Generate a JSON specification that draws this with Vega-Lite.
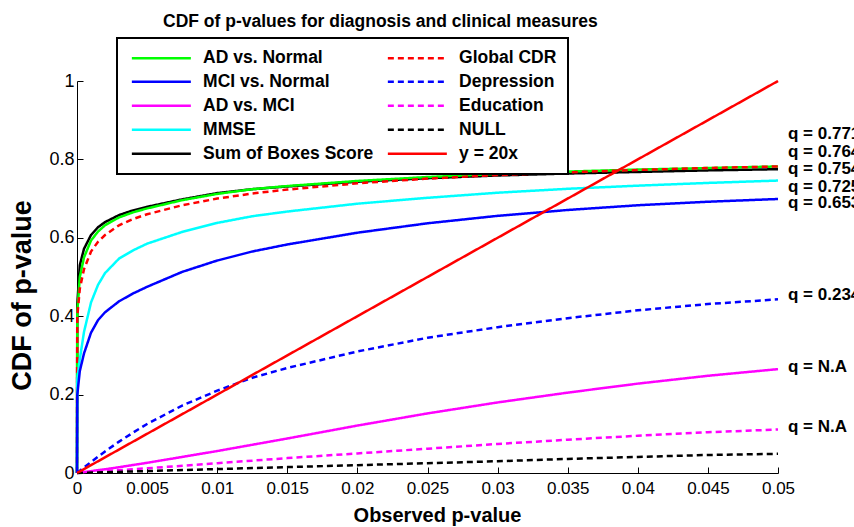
{
  "$schema": "https://vega.github.io/schema/vega-lite/v6.json",
  "autosize": {"type": "none"},
  "width": 701,
  "height": 392,
  "padding": {"left": 77, "top": 81, "right": 76, "bottom": 54},
  "background": "white",
  "title": {
    "text": "CDF of p-values for diagnosis and clinical measures",
    "font": "Liberation Sans",
    "fontSize": 17.5,
    "fontWeight": "bold",
    "color": "black",
    "anchor": "start",
    "frame": "group",
    "dx": 86,
    "offset": 7
  },
  "config": {
    "view": {"stroke": null},
    "legend": {"strokeWidth": 2},
    "axis": {
      "grid": false,
      "domainColor": "black",
      "tickColor": "black",
      "labelColor": "black",
      "titleColor": "black",
      "labelFont": "Liberation Sans",
      "titleFont": "Liberation Sans",
      "labelFontSize": 17,
      "labelFlush": false,
      "labelOverlap": false,
      "tickSize": -6
    }
  },
  "datasets": {
    "curves": [
      {"s": "Sum of Boxes Score", "p": 0, "cdf": 0},
      {"s": "Sum of Boxes Score", "p": 0.00002, "cdf": 0.43},
      {"s": "Sum of Boxes Score", "p": 0.0002, "cdf": 0.53},
      {"s": "Sum of Boxes Score", "p": 0.0005, "cdf": 0.572},
      {"s": "Sum of Boxes Score", "p": 0.001, "cdf": 0.607},
      {"s": "Sum of Boxes Score", "p": 0.0015, "cdf": 0.627},
      {"s": "Sum of Boxes Score", "p": 0.002, "cdf": 0.64},
      {"s": "Sum of Boxes Score", "p": 0.003, "cdf": 0.658},
      {"s": "Sum of Boxes Score", "p": 0.004, "cdf": 0.67},
      {"s": "Sum of Boxes Score", "p": 0.005, "cdf": 0.679},
      {"s": "Sum of Boxes Score", "p": 0.0075, "cdf": 0.698},
      {"s": "Sum of Boxes Score", "p": 0.01, "cdf": 0.714},
      {"s": "Sum of Boxes Score", "p": 0.0125, "cdf": 0.724},
      {"s": "Sum of Boxes Score", "p": 0.015, "cdf": 0.731},
      {"s": "Sum of Boxes Score", "p": 0.02, "cdf": 0.743},
      {"s": "Sum of Boxes Score", "p": 0.025, "cdf": 0.752},
      {"s": "Sum of Boxes Score", "p": 0.03, "cdf": 0.759},
      {"s": "Sum of Boxes Score", "p": 0.035, "cdf": 0.764},
      {"s": "Sum of Boxes Score", "p": 0.04, "cdf": 0.768},
      {"s": "Sum of Boxes Score", "p": 0.045, "cdf": 0.772},
      {"s": "Sum of Boxes Score", "p": 0.05, "cdf": 0.775},

      {"s": "AD vs. Normal", "p": 0, "cdf": 0},
      {"s": "AD vs. Normal", "p": 0.00002, "cdf": 0.41},
      {"s": "AD vs. Normal", "p": 0.0002, "cdf": 0.5},
      {"s": "AD vs. Normal", "p": 0.0005, "cdf": 0.55},
      {"s": "AD vs. Normal", "p": 0.001, "cdf": 0.593},
      {"s": "AD vs. Normal", "p": 0.0015, "cdf": 0.616},
      {"s": "AD vs. Normal", "p": 0.002, "cdf": 0.632},
      {"s": "AD vs. Normal", "p": 0.003, "cdf": 0.652},
      {"s": "AD vs. Normal", "p": 0.004, "cdf": 0.665},
      {"s": "AD vs. Normal", "p": 0.005, "cdf": 0.675},
      {"s": "AD vs. Normal", "p": 0.0075, "cdf": 0.696},
      {"s": "AD vs. Normal", "p": 0.01, "cdf": 0.712},
      {"s": "AD vs. Normal", "p": 0.0125, "cdf": 0.724},
      {"s": "AD vs. Normal", "p": 0.015, "cdf": 0.732},
      {"s": "AD vs. Normal", "p": 0.02, "cdf": 0.745},
      {"s": "AD vs. Normal", "p": 0.025, "cdf": 0.755},
      {"s": "AD vs. Normal", "p": 0.03, "cdf": 0.763},
      {"s": "AD vs. Normal", "p": 0.035, "cdf": 0.769},
      {"s": "AD vs. Normal", "p": 0.04, "cdf": 0.774},
      {"s": "AD vs. Normal", "p": 0.045, "cdf": 0.778},
      {"s": "AD vs. Normal", "p": 0.05, "cdf": 0.782},

      {"s": "Global CDR", "p": 0, "cdf": 0},
      {"s": "Global CDR", "p": 0.00002, "cdf": 0.4},
      {"s": "Global CDR", "p": 0.0002, "cdf": 0.47},
      {"s": "Global CDR", "p": 0.0005, "cdf": 0.52},
      {"s": "Global CDR", "p": 0.001, "cdf": 0.565},
      {"s": "Global CDR", "p": 0.0015, "cdf": 0.59},
      {"s": "Global CDR", "p": 0.002, "cdf": 0.607},
      {"s": "Global CDR", "p": 0.003, "cdf": 0.632},
      {"s": "Global CDR", "p": 0.004, "cdf": 0.648},
      {"s": "Global CDR", "p": 0.005, "cdf": 0.66},
      {"s": "Global CDR", "p": 0.0075, "cdf": 0.683},
      {"s": "Global CDR", "p": 0.01, "cdf": 0.7},
      {"s": "Global CDR", "p": 0.0125, "cdf": 0.713},
      {"s": "Global CDR", "p": 0.015, "cdf": 0.723},
      {"s": "Global CDR", "p": 0.02, "cdf": 0.739},
      {"s": "Global CDR", "p": 0.025, "cdf": 0.751},
      {"s": "Global CDR", "p": 0.03, "cdf": 0.76},
      {"s": "Global CDR", "p": 0.035, "cdf": 0.767},
      {"s": "Global CDR", "p": 0.04, "cdf": 0.773},
      {"s": "Global CDR", "p": 0.045, "cdf": 0.778},
      {"s": "Global CDR", "p": 0.05, "cdf": 0.782},

      {"s": "MMSE", "p": 0, "cdf": 0},
      {"s": "MMSE", "p": 0.00002, "cdf": 0.24},
      {"s": "MMSE", "p": 0.0002, "cdf": 0.29},
      {"s": "MMSE", "p": 0.0005, "cdf": 0.36},
      {"s": "MMSE", "p": 0.001, "cdf": 0.435},
      {"s": "MMSE", "p": 0.0015, "cdf": 0.48},
      {"s": "MMSE", "p": 0.002, "cdf": 0.51},
      {"s": "MMSE", "p": 0.003, "cdf": 0.547},
      {"s": "MMSE", "p": 0.004, "cdf": 0.568},
      {"s": "MMSE", "p": 0.005, "cdf": 0.585},
      {"s": "MMSE", "p": 0.0075, "cdf": 0.615},
      {"s": "MMSE", "p": 0.01, "cdf": 0.638},
      {"s": "MMSE", "p": 0.0125, "cdf": 0.655},
      {"s": "MMSE", "p": 0.015, "cdf": 0.667},
      {"s": "MMSE", "p": 0.02, "cdf": 0.687},
      {"s": "MMSE", "p": 0.025, "cdf": 0.702},
      {"s": "MMSE", "p": 0.03, "cdf": 0.715},
      {"s": "MMSE", "p": 0.035, "cdf": 0.725},
      {"s": "MMSE", "p": 0.04, "cdf": 0.733},
      {"s": "MMSE", "p": 0.045, "cdf": 0.74},
      {"s": "MMSE", "p": 0.05, "cdf": 0.746},

      {"s": "MCI vs. Normal", "p": 0, "cdf": 0},
      {"s": "MCI vs. Normal", "p": 0.00002, "cdf": 0.2},
      {"s": "MCI vs. Normal", "p": 0.0002, "cdf": 0.26},
      {"s": "MCI vs. Normal", "p": 0.0005, "cdf": 0.305},
      {"s": "MCI vs. Normal", "p": 0.001, "cdf": 0.358},
      {"s": "MCI vs. Normal", "p": 0.0015, "cdf": 0.39},
      {"s": "MCI vs. Normal", "p": 0.002, "cdf": 0.41},
      {"s": "MCI vs. Normal", "p": 0.003, "cdf": 0.438},
      {"s": "MCI vs. Normal", "p": 0.004, "cdf": 0.458},
      {"s": "MCI vs. Normal", "p": 0.005, "cdf": 0.475},
      {"s": "MCI vs. Normal", "p": 0.0075, "cdf": 0.513},
      {"s": "MCI vs. Normal", "p": 0.01, "cdf": 0.542},
      {"s": "MCI vs. Normal", "p": 0.0125, "cdf": 0.565},
      {"s": "MCI vs. Normal", "p": 0.015, "cdf": 0.583},
      {"s": "MCI vs. Normal", "p": 0.02, "cdf": 0.613},
      {"s": "MCI vs. Normal", "p": 0.025, "cdf": 0.637},
      {"s": "MCI vs. Normal", "p": 0.03, "cdf": 0.656},
      {"s": "MCI vs. Normal", "p": 0.035, "cdf": 0.671},
      {"s": "MCI vs. Normal", "p": 0.04, "cdf": 0.683},
      {"s": "MCI vs. Normal", "p": 0.045, "cdf": 0.692},
      {"s": "MCI vs. Normal", "p": 0.05, "cdf": 0.699},

      {"s": "Depression", "p": 0, "cdf": 0},
      {"s": "Depression", "p": 0.001, "cdf": 0.028},
      {"s": "Depression", "p": 0.002, "cdf": 0.055},
      {"s": "Depression", "p": 0.003, "cdf": 0.08},
      {"s": "Depression", "p": 0.004, "cdf": 0.103},
      {"s": "Depression", "p": 0.005, "cdf": 0.125},
      {"s": "Depression", "p": 0.0075, "cdf": 0.172},
      {"s": "Depression", "p": 0.01, "cdf": 0.21},
      {"s": "Depression", "p": 0.0125, "cdf": 0.243},
      {"s": "Depression", "p": 0.015, "cdf": 0.268},
      {"s": "Depression", "p": 0.02, "cdf": 0.31},
      {"s": "Depression", "p": 0.025, "cdf": 0.345},
      {"s": "Depression", "p": 0.03, "cdf": 0.372},
      {"s": "Depression", "p": 0.035, "cdf": 0.395},
      {"s": "Depression", "p": 0.04, "cdf": 0.415},
      {"s": "Depression", "p": 0.045, "cdf": 0.431},
      {"s": "Depression", "p": 0.05, "cdf": 0.443},

      {"s": "AD vs. MCI", "p": 0, "cdf": 0},
      {"s": "AD vs. MCI", "p": 0.0025, "cdf": 0.012},
      {"s": "AD vs. MCI", "p": 0.005, "cdf": 0.026},
      {"s": "AD vs. MCI", "p": 0.0075, "cdf": 0.041},
      {"s": "AD vs. MCI", "p": 0.01, "cdf": 0.056},
      {"s": "AD vs. MCI", "p": 0.015, "cdf": 0.088},
      {"s": "AD vs. MCI", "p": 0.02, "cdf": 0.121},
      {"s": "AD vs. MCI", "p": 0.025, "cdf": 0.152},
      {"s": "AD vs. MCI", "p": 0.03, "cdf": 0.18},
      {"s": "AD vs. MCI", "p": 0.035, "cdf": 0.205},
      {"s": "AD vs. MCI", "p": 0.04, "cdf": 0.228},
      {"s": "AD vs. MCI", "p": 0.045, "cdf": 0.248},
      {"s": "AD vs. MCI", "p": 0.05, "cdf": 0.265},

      {"s": "Education", "p": 0, "cdf": 0},
      {"s": "Education", "p": 0.005, "cdf": 0.012},
      {"s": "Education", "p": 0.01, "cdf": 0.025},
      {"s": "Education", "p": 0.015, "cdf": 0.038},
      {"s": "Education", "p": 0.02, "cdf": 0.05},
      {"s": "Education", "p": 0.025, "cdf": 0.062},
      {"s": "Education", "p": 0.03, "cdf": 0.074},
      {"s": "Education", "p": 0.035, "cdf": 0.085},
      {"s": "Education", "p": 0.04, "cdf": 0.095},
      {"s": "Education", "p": 0.045, "cdf": 0.104},
      {"s": "Education", "p": 0.05, "cdf": 0.111},

      {"s": "NULL", "p": 0, "cdf": 0},
      {"s": "NULL", "p": 0.005, "cdf": 0.005},
      {"s": "NULL", "p": 0.01, "cdf": 0.01},
      {"s": "NULL", "p": 0.015, "cdf": 0.015},
      {"s": "NULL", "p": 0.02, "cdf": 0.02},
      {"s": "NULL", "p": 0.025, "cdf": 0.025},
      {"s": "NULL", "p": 0.03, "cdf": 0.03},
      {"s": "NULL", "p": 0.035, "cdf": 0.036},
      {"s": "NULL", "p": 0.04, "cdf": 0.041},
      {"s": "NULL", "p": 0.045, "cdf": 0.046},
      {"s": "NULL", "p": 0.05, "cdf": 0.049},

      {"s": "y = 20x", "p": 0, "cdf": 0},
      {"s": "y = 20x", "p": 0.05, "cdf": 1}
    ],
    "labels": [
      {"p": 0.05, "cdf": 0.865, "text": "q = 0.771"},
      {"p": 0.05, "cdf": 0.819, "text": "q = 0.764"},
      {"p": 0.05, "cdf": 0.776, "text": "q = 0.754"},
      {"p": 0.05, "cdf": 0.73, "text": "q = 0.725"},
      {"p": 0.05, "cdf": 0.689, "text": "q = 0.653"},
      {"p": 0.05, "cdf": 0.454, "text": "q = 0.234"},
      {"p": 0.05, "cdf": 0.27, "text": "q = N.A"},
      {"p": 0.05, "cdf": 0.117, "text": "q = N.A"}
    ]
  },
  "layer": [
    {
      "data": {"name": "curves"},
      "mark": {"type": "line", "clip": false},
      "encoding": {
        "x": {
          "field": "p",
          "type": "quantitative",
          "scale": {"domain": [0, 0.05], "nice": false, "zero": false},
          "axis": {
            "values": [0, 0.005, 0.01, 0.015, 0.02, 0.025, 0.03, 0.035, 0.04, 0.045, 0.05],
            "format": "~g",
            "labelPadding": 13,
            "title": "Observed p-value",
            "titleFontSize": 20,
            "titleFontWeight": "bold",
            "titleX": 360,
            "titleY": 42,
            "titleAlign": "center",
            "titleBaseline": "middle"
          }
        },
        "y": {
          "field": "cdf",
          "type": "quantitative",
          "scale": {"domain": [0, 1], "nice": false},
          "axis": {
            "values": [0, 0.1, 0.2, 0.3, 0.4, 0.5, 0.6, 0.7, 0.8, 0.9, 1],
            "format": "~g",
            "labelPadding": 9,
            "labelFontSize": 18,
            "title": "CDF of p-value",
            "titleFontSize": 27,
            "titleFontWeight": "bold",
            "titleX": -55,
            "titleY": 214,
            "titleAlign": "center",
            "titleBaseline": "middle",
            "titleAngle": 270
          }
        },
        "color": {
          "field": "s",
          "type": "nominal",
          "scale": {
            "domain": ["AD vs. Normal", "MCI vs. Normal", "AD vs. MCI", "MMSE", "Sum of Boxes Score", "Global CDR", "Depression", "Education", "NULL", "y = 20x"],
            "range": ["#00ff00", "#0000ff", "#ff00ff", "#00ffff", "#000000", "#ff0000", "#0000ff", "#ff00ff", "#000000", "#ff0000"]
          },
          "legend": {
            "title": null,
            "orient": "none",
            "legendX": 40,
            "legendY": -43,
            "columns": 2,
            "columnPadding": 8,
            "rowPadding": 5,
            "padding": 11,
            "strokeColor": "black",
            "fillColor": "white",
            "symbolType": "M-6,0H6",
            "symbolSize": 96.7,
            "symbolOffset": 24.6,
            "symbolStrokeWidth": 3,
            "labelFont": "Liberation Sans",
            "labelFontSize": 17.5,
            "labelFontWeight": "bold",
            "labelColor": "black",
            "labelOffset": 33,
            "labelLimit": 400
          }
        },
        "strokeDash": {
          "field": "s",
          "type": "nominal",
          "scale": {
            "domain": ["AD vs. Normal", "MCI vs. Normal", "AD vs. MCI", "MMSE", "Sum of Boxes Score", "Global CDR", "Depression", "Education", "NULL", "y = 20x"],
            "range": [[1, 0], [1, 0], [1, 0], [1, 0], [1, 0], [6, 4], [6, 4], [6, 4], [6, 4], [1, 0]]
          }
        },
        "strokeWidth": {
          "field": "s",
          "type": "nominal",
          "scale": {
            "domain": ["AD vs. Normal", "MCI vs. Normal", "AD vs. MCI", "MMSE", "Sum of Boxes Score", "Global CDR", "Depression", "Education", "NULL", "y = 20x"],
            "range": [2.5, 2.5, 2.5, 2.5, 2.5, 2.5, 2.5, 2.5, 2.5, 2]
          },
          "legend": null
        }
      }
    },
    {
      "data": {"name": "labels"},
      "mark": {"type": "text", "align": "left", "baseline": "middle", "dx": 10, "font": "Liberation Sans", "fontSize": 17, "fontWeight": "bold", "color": "black", "clip": false},
      "encoding": {
        "x": {"field": "p", "type": "quantitative"},
        "y": {"field": "cdf", "type": "quantitative"},
        "text": {"field": "text"}
      }
    }
  ]
}
